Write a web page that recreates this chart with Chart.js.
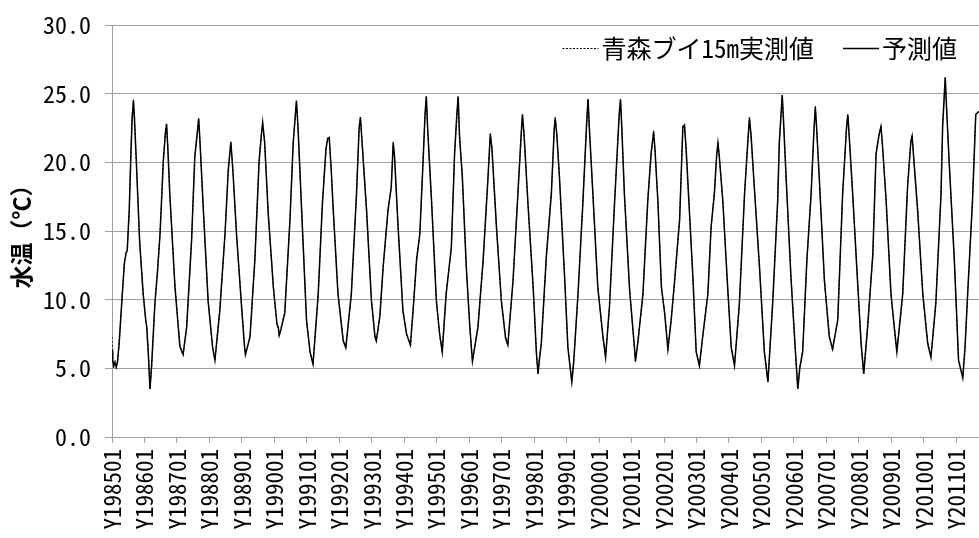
<!DOCTYPE html>
<html>
<head>
<meta charset="utf-8">
<script src="https://cdn.jsdelivr.net/npm/chart.js@4.4.1/dist/chart.umd.min.js"></script>
<style>
html,body{margin:0;padding:0;background:#fff;}
#wrap{width:979px;height:538px;position:relative;}
</style>
</head>
<body>
<div id="wrap"><canvas id="c" width="979" height="538"></canvas></div>
<script>
// ---- data ----
const seriesNames = ['青森ブイ15m実測値', '予測値'];
const tickLabels = ['Y198501','Y198601','Y198701','Y198801','Y198901','Y199001','Y199101','Y199201','Y199301',
  'Y199401','Y199501','Y199601','Y199701','Y199801','Y199901','Y200001','Y200101','Y200201','Y200301',
  'Y200401','Y200501','Y200601','Y200701','Y200801','Y200901','Y201001','Y201101'];

// time of each point, in decimal years
const timeYears = [
1985.00,1985.02,1985.05,1985.09,1985.13,1985.17,1985.22,1985.30,1985.38,1985.43,1985.47,1985.53,1985.58,1985.62,1985.66,1985.69,1985.75,1985.85,1985.96,
1986.04,1986.07,1986.12,1986.17,1986.22,1986.32,1986.40,1986.48,1986.58,1986.64,1986.68,1986.72,1986.78,1986.94,
1987.09,1987.14,1987.19,1987.30,1987.45,1987.55,1987.62,1987.67,1987.72,1987.81,1987.96,
1988.10,1988.17,1988.32,1988.48,1988.58,1988.66,1988.72,1988.84,1988.99,
1989.08,1989.11,1989.25,1989.40,1989.53,1989.60,1989.64,1989.70,1989.81,1989.97,
1990.08,1990.12,1990.15,1990.20,1990.32,1990.48,1990.58,1990.68,1990.73,1990.84,1990.99,
1991.10,1991.19,1991.35,1991.48,1991.59,1991.64,1991.69,1991.75,1991.81,1991.96,
1992.12,1992.20,1992.37,1992.53,1992.61,1992.65,1992.70,1992.84,1992.99,
1993.10,1993.14,1993.25,1993.35,1993.50,1993.60,1993.66,1993.70,1993.81,1993.96,
1994.07,1994.19,1994.28,1994.38,1994.48,1994.58,1994.64,1994.68,1994.72,1994.84,1994.99,
1995.09,1995.17,1995.29,1995.45,1995.55,1995.62,1995.66,1995.70,1995.79,1995.91,
1996.02,1996.10,1996.27,1996.43,1996.58,1996.65,1996.70,1996.84,1996.99,
1997.12,1997.19,1997.35,1997.50,1997.60,1997.64,1997.69,1997.81,1997.97,
1998.07,1998.12,1998.17,1998.22,1998.38,1998.53,1998.62,1998.65,1998.70,1998.78,1998.94,
1999.04,1999.16,1999.22,1999.35,1999.50,1999.62,1999.66,1999.70,1999.81,1999.96,
2000.12,2000.20,2000.32,2000.48,2000.62,2000.66,2000.70,2000.78,2000.94,
2001.09,2001.12,2001.20,2001.35,2001.50,2001.60,2001.68,2001.72,2001.81,2001.92,
2002.02,2002.12,2002.22,2002.32,2002.48,2002.58,2002.63,2002.68,2002.78,2002.89,2002.99,
2003.09,2003.20,2003.35,2003.45,2003.55,2003.62,2003.66,2003.70,2003.81,2003.96,
2004.07,2004.17,2004.32,2004.48,2004.58,2004.63,2004.68,2004.78,2004.94,
2005.09,2005.20,2005.35,2005.50,2005.55,2005.64,2005.68,2005.76,2005.91,
2006.05,2006.12,2006.18,2006.27,2006.40,2006.53,2006.62,2006.66,2006.70,2006.78,2006.94,
2007.09,2007.19,2007.35,2007.50,2007.62,2007.66,2007.70,2007.81,2007.97,
2008.07,2008.15,2008.27,2008.43,2008.53,2008.62,2008.68,2008.72,2008.84,2008.99,
2009.09,2009.17,2009.35,2009.50,2009.60,2009.64,2009.70,2009.81,2009.97,
2010.12,2010.22,2010.37,2010.53,2010.58,2010.66,2010.70,2010.78,2010.94,
2011.07,2011.20,2011.27,2011.35,2011.50,2011.60,2011.70
];

const predicted = [
6.3,5.6,5.2,5.4,5.1,5.5,6.8,9.8,12.6,13.4,13.6,16.5,20.4,23.2,24.5,23.3,20.0,14.3,10.4,
8.5,8.0,6.0,3.5,5.2,9.7,12.0,14.8,20.1,22.0,22.8,21.0,17.7,10.9,
6.6,6.3,6.0,8.0,14.3,20.4,22.0,23.2,21.0,16.7,9.9,
6.5,5.6,9.2,14.8,19.4,21.5,19.5,14.6,9.5,
6.6,6.0,7.3,12.9,20.1,22.0,22.9,21.5,16.3,10.9,
8.2,8.0,7.4,7.8,9.0,15.8,21.4,24.5,22.5,16.5,8.5,
6.2,5.3,10.4,17.0,21.0,21.7,21.8,19.5,16.7,10.4,
7.0,6.5,10.4,17.7,22.5,23.3,21.5,16.5,9.9,
7.3,7.0,8.8,12.4,16.5,18.2,21.4,20.5,15.3,9.2,
7.5,6.7,9.5,12.9,14.8,20.1,23.5,24.8,22.5,17.2,9.9,
7.5,6.2,10.4,13.8,20.6,23.5,24.8,22.0,18.9,12.4,
8.0,5.5,8.0,12.9,18.9,22.1,21.0,15.3,9.9,
7.2,6.7,11.4,17.7,22.0,23.5,22.0,17.0,10.9,
6.1,4.6,5.8,6.8,13.3,17.7,22.5,23.2,22.0,18.9,11.6,
6.5,4.0,5.5,10.4,17.0,23.0,24.6,22.5,17.7,10.9,
7.3,5.8,9.5,17.2,23.5,24.6,22.5,17.7,10.7,
6.5,5.5,7.0,10.4,17.2,20.6,22.2,21.0,17.2,10.9,
9.0,6.4,8.5,11.2,15.8,22.6,22.7,21.0,16.5,11.6,6.2,
5.2,7.5,10.4,15.3,17.7,20.5,21.4,20.5,17.2,10.9,
6.5,5.2,9.7,17.7,21.5,23.2,22.0,18.2,12.4,
6.2,4.0,9.9,17.2,21.4,24.9,23.0,18.9,11.6,
6.1,3.5,5.0,6.2,12.9,17.7,22.5,24.0,22.5,18.9,11.4,
7.3,6.4,8.5,17.7,22.5,23.5,22.0,17.7,10.9,
6.8,4.6,8.0,13.3,20.6,22.0,22.6,21.5,17.2,10.4,
8.0,6.2,10.4,18.2,21.5,21.9,20.0,16.5,10.4,
6.8,5.8,9.7,17.7,22.6,26.2,24.0,20.1,12.9,
5.6,4.3,6.5,10.4,17.2,23.5,23.7
];

const measured = [
7.3,6.2,5.0,5.6,5.0,5.4,6.9,9.7,12.8,13.2,13.7,16.3,20.5,23.4,24.6,23.1,20.1,14.2,10.5,
8.4,8.1,6.1,3.5,5.1,9.6,12.1,14.9,20.0,22.1,22.7,21.1,17.6,11.0,
6.7,6.2,6.0,8.1,14.2,20.5,21.9,23.1,21.1,16.6,10.0,
6.4,5.6,9.3,14.7,19.5,21.4,19.6,14.5,9.6,
6.7,6.0,7.2,13.0,20.0,22.1,22.8,21.4,16.4,10.8,
8.3,7.9,7.3,7.9,9.1,15.7,21.5,24.4,22.4,16.6,8.6,
6.1,5.3,10.3,17.1,20.9,21.8,21.7,19.6,16.6,10.5,
7.1,6.5,10.3,17.8,22.4,23.2,21.6,16.4,10.0,
7.2,7.0,8.9,12.3,16.6,18.1,21.5,20.4,15.4,9.1,
7.6,6.6,9.4,13.0,14.7,20.2,23.4,24.8,22.4,17.3,9.8,
7.4,6.2,10.5,13.7,20.7,23.4,24.7,22.1,18.8,12.5,
7.9,5.5,8.1,12.8,19.0,22.0,21.1,15.2,10.0,
7.3,6.7,11.3,17.8,21.9,23.4,22.1,16.9,11.0,
6.2,4.6,5.9,6.7,13.2,17.8,22.4,23.3,21.9,19.0,11.5,
6.6,4.0,5.6,10.3,17.1,22.9,24.6,22.6,17.6,11.0,
7.2,5.9,9.4,17.3,23.4,24.5,22.6,17.6,10.8,
6.4,5.5,7.1,10.3,17.3,20.5,22.3,20.9,17.3,10.8,
9.1,6.3,8.6,11.1,15.9,22.5,22.8,20.9,16.6,11.5,6.3,
5.2,7.4,10.5,15.2,17.8,20.4,21.5,20.4,17.3,10.8,
6.6,5.2,9.6,17.8,21.4,23.3,21.9,18.3,12.3,
6.3,4.0,10.0,17.1,21.5,24.8,23.1,18.8,11.7,
6.0,3.5,5.1,6.3,12.8,17.8,22.4,24.1,22.4,19.0,11.3,
7.4,6.3,8.6,17.6,22.6,23.4,22.1,17.6,11.0,
6.7,4.6,8.1,13.2,20.7,21.9,22.7,21.4,17.3,10.3,
8.1,6.2,10.3,18.3,21.4,22.0,19.9,16.6,10.3,
6.9,5.8,9.8,17.6,22.7,26.1,24.1,20.0,13.0,
5.5,4.3,6.6,10.3,17.3,23.4,23.8
];

// ---- chart ----
const FONT = "'Noto Sans Mono CJK JP','Liberation Sans Narrow','Noto Sans CJK JP',sans-serif";
const toPoints = vals => vals.map((v, i) => ({x: timeYears[i], y: v}));

const legendPlugin = {
  id: 'customLegend',
  afterDraw(chart) {
    const ctx = chart.ctx;
    const lineLen = 36, gap = 3, itemGap = 29;
    ctx.save();
    ctx.font = "25px " + FONT;
    ctx.textBaseline = 'middle';
    ctx.fillStyle = '#000';
    const widths = seriesNames.map(s => ctx.measureText(s).width);
    const total = widths.reduce((a, w) => a + lineLen + gap + w, 0) + itemGap;
    let x = chart.chartArea.right - 22 - total;
    const y = chart.chartArea.top + 23;
    seriesNames.forEach((name, i) => {
      ctx.beginPath();
      ctx.strokeStyle = '#000';
      ctx.lineWidth = i === 0 ? 1 : 1.3;
      ctx.setLineDash(i === 0 ? [2, 1.5] : []);
      ctx.moveTo(x, y + 0.5);
      ctx.lineTo(x + lineLen, y + 0.5);
      ctx.stroke();
      ctx.setLineDash([]);
      ctx.fillText(name, x + lineLen + gap, y);
      x += lineLen + gap + widths[i] + itemGap;
    });
    ctx.restore();
  }
};

new Chart(document.getElementById('c'), {
  type: 'line',
  data: {
    datasets: [
      {label: seriesNames[0], data: toPoints(measured), borderColor: '#000', borderWidth: 1,
       borderDash: [2, 2], pointRadius: 0, tension: 0, order: 1},
      {label: seriesNames[1], data: toPoints(predicted), borderColor: '#000', borderWidth: 1.5,
       pointRadius: 0, tension: 0, order: 0}
    ]
  },
  options: {
    responsive: false,
    animation: false,
    layout: {padding: {top: 25, right: 0, left: 0, bottom: 0}},
    plugins: {legend: {display: false}, tooltip: {enabled: false}},
    scales: {
      x: {
        type: 'linear', min: 1985, max: 2011.70,
        afterBuildTicks: s => { s.ticks = tickLabels.map((l, i) => ({value: 1985 + i})); },
        afterFit: s => { s.height = 101; s.paddingLeft = 0; s.paddingRight = 0; },
        ticks: {autoSkip: false, minRotation: 90, maxRotation: 90, padding: 6, color: '#000',
                font: {family: FONT, size: 23},
                callback: (v, i) => tickLabels[i]},
        grid: {drawOnChartArea: false, drawTicks: true, tickLength: 6, color: '#a0a0a0'},
        border: {color: '#a0a0a0'}
      },
      y: {
        min: 0, max: 30,
        afterFit: s => { s.width = 112; s.paddingTop = 0; s.paddingBottom = 0; },
        ticks: {stepSize: 5, padding: 14, color: '#000', font: {family: FONT, size: 24},
                callback: v => v.toFixed(1)},
        grid: {color: '#a0a0a0', tickLength: 7},
        border: {color: '#a0a0a0'},
        title: {display: true, text: '水温（℃）', color: '#000',
                font: {family: "'Noto Sans CJK JP'", size: 23, weight: 'bold'},
                padding: {top: 7, bottom: 0}}
      }
    }
  },
  plugins: [legendPlugin]
});
</script>
</body>
</html>
